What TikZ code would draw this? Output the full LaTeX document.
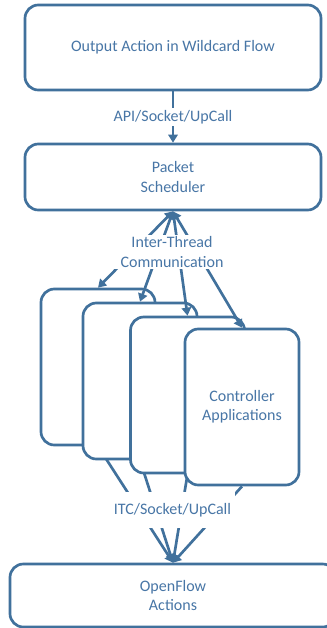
\documentclass[tikz,border=0pt]{standalone}
\usepackage{fontspec}
\setmainfont{Carlito}
\usetikzlibrary{arrows.meta,backgrounds}
\definecolor{edge}{RGB}{65,113,156}
\definecolor{ink}{RGB}{72,118,166}
\tikzset{
  txt/.style={text=ink, align=center, font=\fontsize{12pt}{14.5pt}\selectfont},
  box/.style={txt, draw=edge, fill=white, line width=2pt, rounded corners=10pt, inner sep=0pt},
  card/.style={box, minimum width=85.5pt, minimum height=117pt},
  lbl/.style={txt, fill=white, inner xsep=3pt, inner ysep=1.5pt},
  link/.style={draw=edge, line width=2pt},
  tip/.tip={Triangle[length=6pt,width=7pt]}
}
\begin{document}
\begin{tikzpicture}[x=0.75pt,y=-0.75pt]
  \useasboundingbox (0,0) rectangle (327,628);
  \clip (0,0) rectangle (327,628);

  % upper boxes
  \node[box, minimum width=222pt, minimum height=63.75pt] (wild) at (173,47.5)
    {Output Action in Wildcard Flow};
  \node[box, minimum width=222pt, minimum height=49.5pt] (sched) at (173,177)
    {Packet\\Scheduler};

  % stacked controller cards, back to front
  \node[card] (c1) at (98,367) {};
  \node[card] (c2) at (140,381) {};
  \node[card] (c3) at (187.5,395) {};
  \node[card] (c4) at (242,407) {Controller\\Applications};

  % bottom box
  \node[box, minimum width=244.5pt, minimum height=47.25pt] (of) at (173,595.5)
    {OpenFlow\\Actions};

  % API link
  \draw[link, -tip] (wild) -- node[lbl] {API/Socket/UpCall} (sched);

  % inter-thread links
  \foreach \c in {c1,c2,c3,c4}
    \draw[link, tip-tip] (sched.south) -- (\c.north);
  \node[lbl, inner ysep=1pt, inner xsep=5pt] (itc) at (172,252)
    {Inter-Thread\\Communication};

  % links to OpenFlow actions, behind the cards
  \begin{pgfonlayer}{background}
    \fill[white] (0,0) rectangle (327,628);
    \foreach \c in {c1,c2,c3,c4}
      \draw[link, -tip] (\c.south) -- (of.north);
  \end{pgfonlayer}
  \node[lbl, minimum height=27pt, inner xsep=3pt] (sock) at (172.5,510)
    {ITC/Socket/UpCall};
\end{tikzpicture}
\end{document}
